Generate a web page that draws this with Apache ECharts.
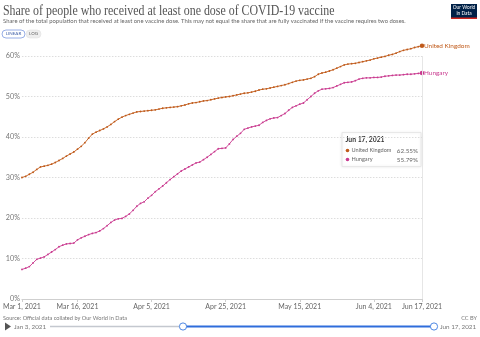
<!DOCTYPE html>
<html>
<head>
<meta charset="utf-8">
<script src="https://cdn.jsdelivr.net/npm/echarts@6/dist/echarts.min.js"></script>
<style>
  html, body { margin: 0; padding: 0; background: #fff; }
  #chart { width: 480px; height: 337px; }
</style>
</head>
<body>
<div id="chart"></div>
<script>
// Daily share (%) of the population with at least one vaccine dose, from Mar 1, 2021
const startDate = '2021-03-01';

const ukShare = [
  30.0, 30.3, 30.8, 31.3, 32.0, 32.6, 32.8, 33.0, 33.3, 33.7,
  34.2, 34.7, 35.3, 35.8, 36.3, 37.0, 37.7, 38.6, 39.7, 40.7,
  41.2, 41.6, 42.0, 42.5, 43.1, 43.8, 44.4, 44.9, 45.3, 45.6,
  45.9, 46.2, 46.3, 46.4, 46.5, 46.6, 46.7, 46.9, 47.1, 47.2,
  47.3, 47.4, 47.5, 47.7, 47.9, 48.2, 48.4, 48.5, 48.7, 48.9,
  49.0, 49.2, 49.4, 49.6, 49.75, 49.9, 50.0, 50.2, 50.4, 50.6,
  50.8, 50.9, 51.1, 51.3, 51.6, 51.8, 51.9, 52.1, 52.3, 52.5,
  52.7, 52.9, 53.2, 53.5, 53.8, 54.0, 54.1, 54.3, 54.5, 54.9,
  55.5, 55.8, 56.0, 56.3, 56.6, 57.0, 57.4, 57.8, 58.0, 58.1,
  58.2, 58.4, 58.6, 58.8, 59.0, 59.3, 59.5, 59.7, 59.9, 60.2,
  60.4, 60.7, 61.1, 61.4, 61.6, 61.8, 62.1, 62.3, 62.55
];

const huShare = [
  7.3, 7.6, 8.0, 8.9, 9.8, 10.1, 10.4, 11.0, 11.6, 12.2,
  12.9, 13.3, 13.6, 13.7, 13.8, 14.6, 15.1, 15.5, 15.9, 16.2,
  16.4, 16.8, 17.4, 18.1, 18.9, 19.5, 19.8, 19.9, 20.4, 21.0,
  21.9, 22.9, 23.6, 24.0, 24.9, 25.6, 26.5, 27.2, 27.9, 28.7,
  29.5, 30.2, 30.9, 31.6, 32.1, 32.6, 33.1, 33.6, 33.8, 34.4,
  35.0, 35.7, 36.4, 37.1, 37.2, 37.3, 38.3, 39.4, 40.2, 40.9,
  41.9, 42.2, 42.5, 42.7, 42.9, 43.6, 44.1, 44.5, 44.7, 44.8,
  45.3, 45.8, 46.6, 47.3, 47.7, 48.1, 48.4, 49.2, 50.0, 50.8,
  51.4, 51.8, 51.9, 52.0, 52.2, 52.6, 53.0, 53.4, 53.5, 53.6,
  53.9, 54.3, 54.5, 54.6, 54.6, 54.7, 54.7, 54.8, 55.0, 55.1,
  55.2, 55.3, 55.3, 55.4, 55.5, 55.5, 55.6, 55.7, 55.79
];

const seriesNames = ['United Kingdom', 'Hungary'];
const seriesColors = ['#c05a1a', '#c93a8f'];
const tickDates = ['2021-03-01', '2021-03-16', '2021-04-05', '2021-04-25', '2021-05-15', '2021-06-04', '2021-06-17'];
const yTicks = [0, 10, 20, 30, 40, 50, 60];

const MONTHS = ['Jan', 'Feb', 'Mar', 'Apr', 'May', 'Jun', 'Jul', 'Aug', 'Sep', 'Oct', 'Nov', 'Dec'];
function fmtDate(iso) {
  const d = new Date(iso + 'T00:00:00Z');
  return MONTHS[d.getUTCMonth()] + ' ' + d.getUTCDate() + ', ' + d.getUTCFullYear();
}
function buildDates(start, n) {
  const out = [];
  const t0 = Date.parse(start + 'T00:00:00Z');
  for (let i = 0; i < n; i++) {
    out.push(new Date(t0 + i * 86400000).toISOString().slice(0, 10));
  }
  return out;
}

const dates = buildDates(startDate, ukShare.length);
const tickSet = new Set(tickDates);
const lastDate = dates[dates.length - 1];
const BODY = 'Lato, "Open Sans", sans-serif';

function withEndPoint(arr) {
  return arr.map((v, i) => i === arr.length - 1 ? { value: v, symbolSize: 4.5 } : v);
}

function lineSeries(name, values, color) {
  return {
    name: name,
    type: 'line',
    data: withEndPoint(values),
    clip: false,
    showSymbol: true,
    symbol: 'circle',
    symbolSize: 1.8,
    lineStyle: { color: color, width: 0.9 },
    itemStyle: { color: color },
    emphasis: { disabled: true },
    endLabel: {
      show: true,
      formatter: '{a}',
      color: color,
      fontFamily: BODY,
      fontSize: 6.4,
      distance: 2
    }
  };
}

const chart = echarts.init(document.getElementById('chart'), null, { renderer: 'canvas' });

const ukLast = ukShare[ukShare.length - 1];
const huLast = huShare[huShare.length - 1];

const option = {
  animation: false,
  backgroundColor: '#ffffff',
  grid: { left: 17, right: 58, top: 56, bottom: 38, containLabel: false },
  xAxis: {
    type: 'category',
    data: dates,
    boundaryGap: false,
    axisLine: { lineStyle: { color: '#cfcfcf', width: 1 } },
    axisTick: {
      show: true,
      length: 3,
      interval: (idx, val) => tickSet.has(val),
      lineStyle: { color: '#cfcfcf' }
    },
    axisLabel: {
      interval: (idx, val) => tickSet.has(val),
      formatter: (val) => fmtDate(val),
      color: '#666',
      fontFamily: BODY,
      fontSize: 7,
      margin: 4,
      hideOverlap: false
    },
    splitLine: { show: false }
  },
  yAxis: {
    type: 'value',
    min: yTicks[0],
    max: yTicks[yTicks.length - 1],
    interval: 10,
    axisLine: { show: false },
    axisTick: { show: false },
    axisLabel: {
      formatter: '{value}%',
      color: '#777',
      fontFamily: BODY,
      fontSize: 7.2,
      margin: 2
    },
    splitLine: { lineStyle: { color: '#dddddd', type: [1.5, 1.5], width: 1 } }
  },
  series: [
    Object.assign(lineSeries(seriesNames[0], ukShare, seriesColors[0]), {
      markLine: {
        silent: true,
        symbol: 'none',
        label: { show: false },
        lineStyle: { color: '#e6e6e6', type: 'solid', width: 1 },
        data: [{ xAxis: lastDate }]
      }
    }),
    lineSeries(seriesNames[1], huShare, seriesColors[1])
  ],
  graphic: [
    // Title block
    {
      type: 'text', x: 3, y: 4, scaleX: 0.85,
      style: {
        text: 'Share of people who received at least one dose of COVID-19 vaccine',
        font: '14px "Liberation Serif", "DejaVu Serif", serif',
        fill: '#555'
      }
    },
    {
      type: 'text', left: 3, top: 18,
      style: {
        text: 'Share of the total population that received at least one vaccine dose. This may not equal the share that are fully vaccinated if the vaccine requires two doses.',
        font: '5.9px ' + BODY,
        fill: '#666'
      }
    },
    // LINEAR / LOG toggle
    {
      type: 'rect', shape: { x: 2, y: 30, width: 23, height: 8, r: 4 },
      style: { fill: '#ffffff', stroke: '#7d9be0', lineWidth: 0.8 }
    },
    {
      type: 'text', x: 13.5, y: 34,
      style: { text: 'LINEAR', font: '4.5px ' + BODY, fill: '#3f5fa8', align: 'center', verticalAlign: 'middle' }
    },
    {
      type: 'rect', shape: { x: 26, y: 30, width: 15, height: 8, r: 4 },
      style: { fill: '#eeeeee', stroke: '#e2e2e2', lineWidth: 0.6 }
    },
    {
      type: 'text', x: 33.5, y: 34,
      style: { text: 'LOG', font: '4.5px ' + BODY, fill: '#666', align: 'center', verticalAlign: 'middle' }
    },
    // Logo
    {
      type: 'rect', shape: { x: 451, y: 4, width: 26, height: 15 },
      style: { fill: '#002147' }
    },
    {
      type: 'rect', shape: { x: 451, y: 17.5, width: 26, height: 1.5 },
      style: { fill: '#ce261e' }
    },
    {
      type: 'text', x: 464, y: 7.5,
      style: { text: 'Our World', font: '4.8px ' + BODY, fill: '#ffffff', align: 'center', verticalAlign: 'middle' }
    },
    {
      type: 'text', x: 464, y: 13,
      style: { text: 'in Data', font: '4.8px ' + BODY, fill: '#ffffff', align: 'center', verticalAlign: 'middle' }
    },
    // Hover summary box for the final date
    {
      type: 'rect', shape: { x: 342, y: 132.5, width: 79, height: 34 },
      style: { fill: '#ffffff', stroke: '#e8e8e8', lineWidth: 1, shadowBlur: 3, shadowColor: 'rgba(0,0,0,0.08)' }
    },
    {
      type: 'text', x: 345.5, y: 140,
      style: { text: fmtDate(lastDate), font: 'bold 6.8px ' + BODY, fill: '#333', verticalAlign: 'middle' }
    },
    {
      type: 'circle', shape: { cx: 347.5, cy: 150.5, r: 1.8 }, style: { fill: seriesColors[0] }
    },
    {
      type: 'text', x: 351.5, y: 150.5,
      style: { text: seriesNames[0], font: '5.6px ' + BODY, fill: '#666', verticalAlign: 'middle' }
    },
    {
      type: 'text', x: 418, y: 150.5,
      style: { text: ukLast.toFixed(2) + '%', font: '6.3px ' + BODY, fill: '#666', align: 'right', verticalAlign: 'middle' }
    },
    {
      type: 'circle', shape: { cx: 347.5, cy: 159.5, r: 1.8 }, style: { fill: seriesColors[1] }
    },
    {
      type: 'text', x: 351.5, y: 159.5,
      style: { text: seriesNames[1], font: '5.6px ' + BODY, fill: '#666', verticalAlign: 'middle' }
    },
    {
      type: 'text', x: 418, y: 159.5,
      style: { text: huLast.toFixed(2) + '%', font: '6.3px ' + BODY, fill: '#666', align: 'right', verticalAlign: 'middle' }
    },
    // Footer
    {
      type: 'text', x: 3, y: 318,
      style: { text: 'Source: Official data collated by Our World in Data', font: '5.6px ' + BODY, fill: '#777', verticalAlign: 'middle' }
    },
    {
      type: 'text', x: 477, y: 318,
      style: { text: 'CC BY', font: '5.6px ' + BODY, fill: '#777', align: 'right', verticalAlign: 'middle' }
    },
    // Timeline slider
    {
      type: 'polygon', shape: { points: [[5, 322.5], [5, 330.5], [11, 326.5]] },
      style: { fill: '#555' }
    },
    {
      type: 'text', x: 14, y: 327,
      style: { text: 'Jan 3, 2021', font: '6.3px ' + BODY, fill: '#777', verticalAlign: 'middle' }
    },
    {
      type: 'line', shape: { x1: 50, y1: 326.5, x2: 183, y2: 326.5 },
      style: { stroke: '#c4c8cf', lineWidth: 1.5 }
    },
    {
      type: 'line', shape: { x1: 183, y1: 326.5, x2: 434, y2: 326.5 },
      style: { stroke: '#2f6ddb', lineWidth: 2 }
    },
    {
      type: 'circle', shape: { cx: 183, cy: 326.5, r: 3.6 },
      style: { fill: '#ffffff', stroke: '#3b7be0', lineWidth: 0.9 }
    },
    {
      type: 'circle', shape: { cx: 434, cy: 326.5, r: 3.6 },
      style: { fill: '#ffffff', stroke: '#3b7be0', lineWidth: 0.9 }
    },
    {
      type: 'text', x: 440, y: 327,
      style: { text: fmtDate(lastDate), font: '6.3px ' + BODY, fill: '#777', verticalAlign: 'middle' }
    }
  ]
};

chart.setOption(option);
</script>
</body>
</html>
